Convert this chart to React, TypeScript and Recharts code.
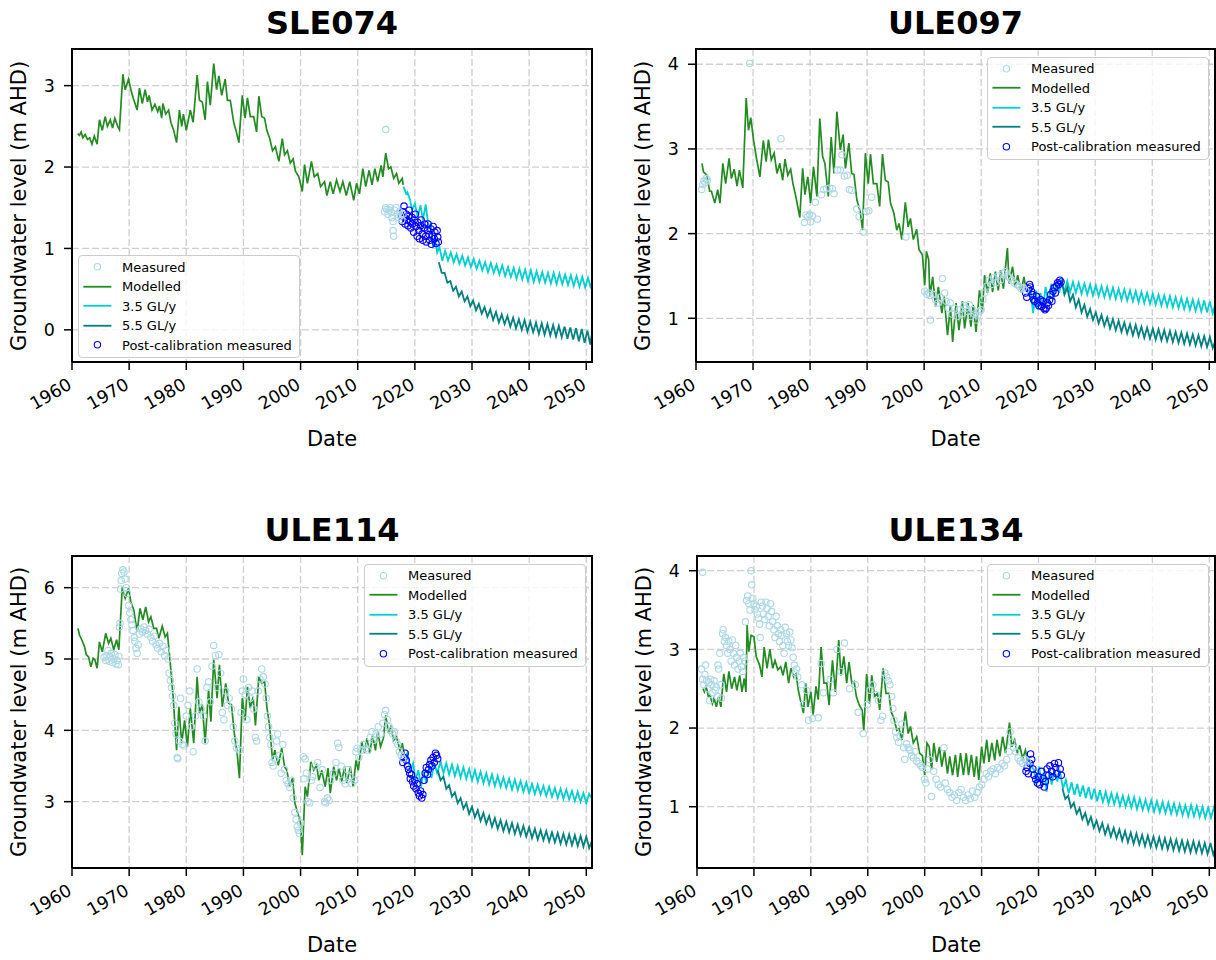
// App.tsx
// Four groundwater hydrographs (measured vs modelled, with two pumping projections) drawn with Recharts

import {
  ComposedChart,
  Line,
  Scatter,
  XAxis,
  YAxis,
  CartesianGrid,
  Legend,
} from 'recharts'

type Pt = [number, number]

const YEAR_TICKS = [1960, 1970, 1980, 1990, 2000, 2010, 2020, 2030, 2040, 2050]
const SERIES_LABELS = ['Measured', 'Modelled', '3.5 GL/y', '5.5 GL/y', 'Post-calibration measured']
const PANEL_TITLES = ['SLE074', 'ULE097', 'ULE114', 'ULE134']
const SLE074_TICKS = [0, 1, 2, 3]
const ULE097_TICKS = [1, 2, 3, 4]
const ULE114_TICKS = [3, 4, 5, 6]
const ULE134_TICKS = [1, 2, 3, 4]

// ---- SLE074 ----
const sle074Measured: Pt[] = [
  [2014.9, 2.46], [2014.7, 1.45], [2014.9, 1.5], [2015.1, 1.48], [2015.3, 1.42], [2015.5, 1.47],
  [2015.7, 1.5], [2015.9, 1.44], [2016.0, 1.38], [2016.2, 1.33], [2016.2, 1.22], [2016.3, 1.15],
  [2016.5, 1.47], [2016.7, 1.5], [2016.9, 1.42], [2017.1, 1.38], [2017.3, 1.45], [2017.5, 1.4],
  [2017.7, 1.35], [2017.9, 1.42],
]
const sle074Modelled: Pt[] = [
  [1961.0, 2.41], [1961.3, 2.39], [1961.6, 2.43], [1961.9, 2.36], [1962.3, 2.4], [1962.7, 2.34],
  [1963.1, 2.36], [1963.5, 2.28], [1963.9, 2.38], [1964.4, 2.28], [1964.8, 2.58], [1965.3, 2.45],
  [1965.8, 2.62], [1966.2, 2.5], [1966.7, 2.58], [1967.1, 2.48], [1967.5, 2.6], [1968.0, 2.5],
  [1968.3, 2.46], [1968.9, 3.14], [1969.3, 2.95], [1969.9, 3.08], [1970.3, 2.95], [1970.7, 2.85],
  [1971.4, 2.7], [1971.8, 2.97], [1972.3, 2.78], [1972.8, 2.95], [1973.2, 2.8], [1973.5, 2.88],
  [1974.0, 2.7], [1974.5, 2.77], [1975.0, 2.68], [1975.3, 2.75], [1975.7, 2.6], [1975.9, 2.78],
  [1976.4, 2.65], [1976.9, 2.7], [1977.3, 2.55], [1977.8, 2.45], [1978.3, 2.3], [1978.8, 2.7],
  [1979.2, 2.5], [1979.5, 2.65], [1980.0, 2.45], [1980.7, 2.7], [1981.2, 2.55], [1981.9, 3.13],
  [1982.3, 2.82], [1982.8, 2.8], [1983.3, 2.58], [1983.7, 3.05], [1984.2, 2.76], [1984.8, 3.27],
  [1985.3, 2.95], [1985.7, 3.12], [1986.2, 2.88], [1986.8, 3.08], [1987.2, 2.82], [1987.7, 2.82],
  [1988.3, 2.55], [1988.7, 2.45], [1989.2, 2.3], [1989.8, 2.88], [1990.3, 2.6], [1990.7, 2.85],
  [1991.2, 2.62], [1991.8, 2.62], [1992.3, 2.43], [1992.7, 2.87], [1993.2, 2.62], [1993.7, 2.6],
  [1994.1, 2.45], [1994.6, 2.35], [1995.1, 2.2], [1995.6, 2.25], [1996.2, 2.07], [1996.8, 2.35],
  [1997.2, 2.15], [1997.7, 2.2], [1998.2, 2.05], [1998.7, 2.1], [1999.1, 1.95], [1999.7, 1.88],
  [2000.3, 1.7], [2000.7, 2.03], [2001.2, 1.8], [2001.9, 2.07], [2002.4, 1.88], [2003.0, 1.92],
  [2003.5, 1.76], [2004.2, 1.82], [2004.6, 1.65], [2005.2, 1.82], [2005.7, 1.67], [2006.3, 1.84],
  [2006.9, 1.7], [2007.4, 1.82], [2008.0, 1.65], [2008.6, 1.82], [2009.3, 1.59], [2009.8, 1.8],
  [2010.3, 1.67], [2010.9, 1.98], [2011.4, 1.76], [2012.0, 1.96], [2012.5, 1.78], [2013.0, 1.98],
  [2013.5, 1.82], [2014.1, 2.02], [2014.4, 1.88], [2014.9, 2.17], [2015.4, 1.98], [2015.8, 2.0],
  [2016.3, 1.86], [2016.8, 1.92], [2017.2, 1.8], [2017.8, 1.86], [2017.95, 1.78],
]
const sle074Low: Pt[] = [
  [2018.0, 1.76], [2018.5, 1.67], [2018.7, 1.69], [2019.2, 1.59], [2019.5, 1.47], [2020.0, 1.55],
  [2020.5, 1.39], [2021.0, 1.53], [2021.4, 1.35], [2021.9, 1.54], [2022.4, 1.26], [2022.8, 1.3],
  [2023.2, 1.02], [2023.5, 1.14], [2023.9, 0.95], [2024.3, 1.02], [2024.8, 0.85], [2025.3, 0.97],
  [2025.8, 0.85], [2026.3, 0.95], [2026.8, 0.83], [2027.3, 0.93], [2027.8, 0.81], [2028.3, 0.91],
  [2028.8, 0.79], [2029.3, 0.89], [2029.8, 0.77], [2030.3, 0.87], [2030.8, 0.75], [2031.3, 0.85],
  [2031.8, 0.73], [2032.3, 0.83], [2032.8, 0.71], [2033.3, 0.82], [2033.8, 0.7], [2034.3, 0.8],
  [2034.8, 0.68], [2035.3, 0.79], [2035.8, 0.66], [2036.3, 0.77], [2036.8, 0.65], [2037.3, 0.76],
  [2037.8, 0.63], [2038.3, 0.75], [2038.8, 0.62], [2039.3, 0.74], [2039.8, 0.6], [2040.3, 0.73],
  [2040.8, 0.59], [2041.3, 0.72], [2041.8, 0.59], [2042.3, 0.71], [2042.8, 0.58], [2043.3, 0.7],
  [2043.8, 0.57], [2044.3, 0.7], [2044.8, 0.56], [2045.3, 0.69], [2045.8, 0.56], [2046.3, 0.68],
  [2046.8, 0.55], [2047.3, 0.67], [2047.8, 0.54], [2048.3, 0.66], [2048.8, 0.53], [2049.3, 0.65],
  [2049.8, 0.52], [2050.3, 0.64], [2050.8, 0.51], [2051.0, 0.6],
]
const sle074High: Pt[] = [
  [2024.2, 0.83], [2024.7, 0.7], [2025.2, 0.7], [2025.7, 0.58], [2026.2, 0.6], [2026.7, 0.48],
  [2027.2, 0.53], [2027.7, 0.41], [2028.2, 0.47], [2028.7, 0.35], [2029.2, 0.41], [2029.7, 0.29],
  [2030.2, 0.36], [2030.7, 0.24], [2031.2, 0.32], [2031.7, 0.2], [2032.2, 0.28], [2032.7, 0.16],
  [2033.2, 0.25], [2033.7, 0.12], [2034.2, 0.22], [2034.7, 0.09], [2035.2, 0.19], [2035.7, 0.07],
  [2036.2, 0.17], [2036.7, 0.04], [2037.2, 0.15], [2037.7, 0.02], [2038.2, 0.13], [2038.7, 0.0],
  [2039.2, 0.12], [2039.7, -0.02], [2040.2, 0.1], [2040.7, -0.03], [2041.2, 0.09], [2041.7, -0.05],
  [2042.2, 0.08], [2042.7, -0.06], [2043.2, 0.07], [2043.7, -0.07], [2044.2, 0.06], [2044.7, -0.08],
  [2045.2, 0.05], [2045.7, -0.09], [2046.2, 0.04], [2046.7, -0.11], [2047.2, 0.03], [2047.7, -0.12],
  [2048.2, 0.02], [2048.7, -0.14], [2049.2, 0.01], [2049.7, -0.16], [2050.2, -0.01], [2050.7, -0.18],
  [2051.0, -0.05],
]
const sle074Post: Pt[] = [
  [2017.6, 1.4], [2017.8, 1.33], [2017.9, 1.45], [2018.1, 1.52], [2018.2, 1.38], [2018.3, 1.3],
  [2018.5, 1.42], [2018.6, 1.35], [2018.8, 1.28], [2018.9, 1.4], [2019.0, 1.47], [2019.2, 1.33],
  [2019.3, 1.25], [2019.5, 1.38], [2019.6, 1.3], [2019.8, 1.2], [2019.9, 1.35], [2020.1, 1.42],
  [2020.2, 1.27], [2020.4, 1.15], [2020.5, 1.32], [2020.7, 1.22], [2020.8, 1.12], [2021.0, 1.28],
  [2021.1, 1.35], [2021.3, 1.18], [2021.4, 1.1], [2021.6, 1.25], [2021.7, 1.3], [2021.9, 1.15],
  [2022.0, 1.08], [2022.2, 1.22], [2022.3, 1.3], [2022.5, 1.17], [2022.6, 1.1], [2022.8, 1.24],
  [2022.9, 1.05], [2023.1, 1.15], [2023.2, 1.27], [2023.4, 1.12], [2023.5, 1.2], [2023.7, 1.06],
  [2023.9, 1.22], [2024.0, 1.14], [2024.1, 1.08],
]

// ---- ULE097 ----
const ule097Measured: Pt[] = [
  [1961.0, 2.52], [1961.2, 2.58], [1961.4, 2.62], [1961.6, 2.6], [1961.8, 2.65], [1962.0, 2.63],
  [1969.4, 4.01], [1974.9, 3.12], [1979.0, 2.13], [1979.3, 2.22], [1979.6, 2.2], [1979.9, 2.23],
  [1980.1, 2.14], [1980.4, 2.21], [1980.9, 2.37], [1981.3, 2.17], [1982.0, 2.46], [1982.4, 2.52],
  [1982.9, 2.53], [1983.4, 2.54], [1983.9, 2.53], [1984.2, 2.47], [1984.8, 2.75], [1985.3, 2.75],
  [1985.6, 2.93], [1986.0, 2.68], [1986.5, 2.69], [1986.9, 2.52], [1987.3, 2.51], [1988.2, 2.29],
  [1988.6, 2.2], [1989.3, 2.02], [1989.9, 2.26], [1990.3, 2.27], [1990.8, 2.43], [1996.8, 1.96],
  [2000.1, 1.32], [2000.5, 1.28], [2000.8, 1.3], [2001.0, 1.27], [2001.1, 0.98], [2001.6, 1.28],
  [2002.0, 1.22], [2002.4, 1.18], [2002.8, 1.25], [2003.2, 1.47], [2003.6, 1.3], [2003.9, 1.2],
  [2004.3, 1.12], [2004.6, 1.18], [2004.9, 1.05], [2005.3, 1.12], [2005.8, 1.02], [2006.2, 1.1],
  [2006.6, 1.05], [2007.0, 1.15], [2007.3, 1.12], [2007.6, 1.08], [2007.9, 1.16], [2008.2, 1.02],
  [2008.5, 1.1], [2008.8, 1.05], [2009.1, 0.98], [2009.4, 1.03], [2009.7, 1.08], [2010.0, 1.1],
  [2010.3, 1.22], [2010.6, 1.3], [2011.0, 1.38], [2011.4, 1.45], [2011.8, 1.4], [2012.2, 1.48],
  [2012.6, 1.42], [2013.0, 1.5], [2013.4, 1.45], [2013.8, 1.53], [2014.2, 1.55], [2014.6, 1.5],
  [2015.0, 1.48], [2015.4, 1.45], [2015.8, 1.42], [2016.2, 1.4], [2016.6, 1.38], [2017.0, 1.35],
  [2017.4, 1.36], [2017.8, 1.33],
]
const ule097Modelled: Pt[] = [
  [1961.05, 2.83], [1961.3, 2.73], [1961.9, 2.69], [1962.1, 2.61], [1962.4, 2.5], [1962.7, 2.5],
  [1963.3, 2.36], [1963.8, 2.52], [1964.2, 2.36], [1964.7, 2.83], [1965.2, 2.59], [1965.8, 2.89],
  [1966.2, 2.65], [1966.7, 2.76], [1967.2, 2.56], [1967.6, 2.75], [1968.2, 2.54], [1968.8, 3.6],
  [1969.2, 3.22], [1969.6, 3.37], [1970.1, 3.1], [1970.6, 2.89], [1971.2, 2.67], [1971.8, 3.1],
  [1972.3, 2.85], [1972.7, 3.11], [1973.2, 2.87], [1973.7, 2.95], [1974.2, 2.71], [1974.7, 2.83],
  [1975.2, 2.63], [1975.6, 2.88], [1976.1, 2.69], [1976.6, 2.76], [1977.0, 2.59], [1977.5, 2.44],
  [1978.2, 2.19], [1978.7, 2.77], [1979.1, 2.46], [1979.6, 2.67], [1980.1, 2.36], [1980.6, 2.79],
  [1981.2, 2.44], [1981.7, 3.36], [1982.2, 2.91], [1982.6, 2.83], [1983.2, 2.44], [1983.7, 3.14],
  [1984.2, 2.71], [1984.7, 3.44], [1985.3, 2.99], [1985.8, 3.17], [1986.2, 2.77], [1986.8, 3.07],
  [1987.3, 2.71], [1987.7, 2.7], [1988.2, 2.4], [1988.8, 2.26], [1989.2, 2.04], [1989.7, 2.95],
  [1990.2, 2.59], [1990.6, 2.94], [1991.1, 2.59], [1991.7, 2.59], [1992.2, 2.32], [1992.7, 2.94],
  [1993.2, 2.63], [1993.7, 2.61], [1994.1, 2.36], [1994.7, 2.24], [1995.2, 2.04], [1995.6, 2.12],
  [1996.1, 1.93], [1996.7, 2.37], [1997.2, 2.08], [1997.6, 2.18], [1998.1, 1.93], [1998.7, 2.05],
  [1999.1, 1.81], [1999.7, 1.75], [2000.1, 1.39], [2000.4, 1.79], [2000.8, 1.69], [2001.0, 1.26],
  [2001.5, 1.49], [2002.0, 1.14], [2002.5, 1.37], [2003.1, 1.06], [2003.5, 1.26], [2004.1, 0.8],
  [2004.6, 1.14], [2005.0, 0.72], [2005.6, 1.18], [2006.1, 0.86], [2006.7, 1.2], [2007.1, 0.88],
  [2007.7, 1.18], [2008.2, 0.9], [2008.6, 1.16], [2009.1, 0.84], [2009.7, 1.33], [2010.2, 1.06],
  [2010.6, 1.51], [2011.1, 1.3], [2011.6, 1.53], [2012.0, 1.31], [2012.5, 1.55], [2013.0, 1.33],
  [2013.4, 1.57], [2013.9, 1.35], [2014.6, 1.83], [2014.9, 1.41], [2015.5, 1.61], [2016.0, 1.37],
  [2016.4, 1.51], [2017.0, 1.31], [2017.5, 1.49], [2017.8, 1.37],
]
const ule097Low: Pt[] = [
  [2017.9, 1.41], [2018.4, 1.26], [2018.7, 1.33], [2019.1, 1.06], [2019.6, 1.33], [2019.9, 1.1],
  [2020.4, 1.3], [2020.9, 1.14], [2021.3, 1.37], [2021.8, 1.18], [2022.3, 1.41], [2022.7, 1.22],
  [2023.2, 1.44], [2023.7, 1.3], [2024.1, 1.45], [2024.6, 1.31], [2025.1, 1.44], [2025.6, 1.31],
  [2026.1, 1.43], [2026.6, 1.3], [2027.1, 1.42], [2027.6, 1.29], [2028.1, 1.41], [2028.6, 1.28],
  [2029.1, 1.4], [2029.6, 1.27], [2030.1, 1.39], [2030.6, 1.26], [2031.1, 1.38], [2031.6, 1.25],
  [2032.1, 1.37], [2032.6, 1.24], [2033.1, 1.36], [2033.6, 1.23], [2034.1, 1.35], [2034.6, 1.22],
  [2035.1, 1.34], [2035.6, 1.21], [2036.1, 1.33], [2036.6, 1.2], [2037.1, 1.32], [2037.6, 1.19],
  [2038.1, 1.31], [2038.6, 1.18], [2039.1, 1.3], [2039.6, 1.17], [2040.1, 1.29], [2040.6, 1.16],
  [2041.1, 1.28], [2041.6, 1.15], [2042.1, 1.27], [2042.6, 1.14], [2043.1, 1.26], [2043.6, 1.13],
  [2044.1, 1.25], [2044.6, 1.12], [2045.1, 1.24], [2045.6, 1.11], [2046.1, 1.23], [2046.6, 1.1],
  [2047.1, 1.22], [2047.6, 1.09], [2048.1, 1.21], [2048.6, 1.08], [2049.1, 1.21], [2049.6, 1.07],
  [2050.1, 1.2], [2050.6, 1.06], [2051.0, 1.15],
]
const ule097High: Pt[] = [
  [2024.1, 1.45], [2024.6, 1.28], [2025.1, 1.36], [2025.6, 1.2], [2026.1, 1.28], [2026.6, 1.13],
  [2027.1, 1.22], [2027.6, 1.07], [2028.1, 1.16], [2028.6, 1.02], [2029.1, 1.11], [2029.6, 0.98],
  [2030.1, 1.07], [2030.6, 0.94], [2031.1, 1.04], [2031.6, 0.91], [2032.1, 1.01], [2032.6, 0.88],
  [2033.1, 0.99], [2033.6, 0.86], [2034.1, 0.97], [2034.6, 0.84], [2035.1, 0.95], [2035.6, 0.82],
  [2036.1, 0.93], [2036.6, 0.8], [2037.1, 0.92], [2037.6, 0.79], [2038.1, 0.9], [2038.6, 0.77],
  [2039.1, 0.89], [2039.6, 0.76], [2040.1, 0.88], [2040.6, 0.75], [2041.1, 0.87], [2041.6, 0.74],
  [2042.1, 0.86], [2042.6, 0.73], [2043.1, 0.85], [2043.6, 0.72], [2044.1, 0.84], [2044.6, 0.71],
  [2045.1, 0.83], [2045.6, 0.7], [2046.1, 0.82], [2046.6, 0.69], [2047.1, 0.81], [2047.6, 0.68],
  [2048.1, 0.8], [2048.6, 0.67], [2049.1, 0.79], [2049.6, 0.66], [2050.1, 0.78], [2050.6, 0.65],
  [2051.0, 0.72],
]
const ule097Post: Pt[] = [
  [2017.8, 1.3], [2018.0, 1.25], [2018.3, 1.35], [2018.5, 1.4], [2018.6, 1.37], [2018.8, 1.32],
  [2019.0, 1.28], [2019.2, 1.22], [2019.4, 1.2], [2019.7, 1.26], [2019.9, 1.18], [2020.1, 1.15],
  [2020.4, 1.22], [2020.6, 1.14], [2020.8, 1.2], [2021.0, 1.12], [2021.2, 1.1], [2021.4, 1.12],
  [2021.6, 1.18], [2021.8, 1.15], [2022.0, 1.22], [2022.2, 1.28], [2022.4, 1.2], [2022.6, 1.32],
  [2022.8, 1.36], [2023.0, 1.3], [2023.2, 1.38], [2023.4, 1.42], [2023.6, 1.4], [2023.8, 1.45],
  [2024.0, 1.43],
]

// ---- ULE114 ----
const ule114Measured: Pt[] = [
  [1965.6, 5.02], [1965.9, 4.98], [1966.1, 5.05], [1966.3, 5.12], [1966.5, 4.97], [1966.7, 5.03],
  [1966.9, 5.08], [1967.1, 4.95], [1967.3, 5.0], [1967.5, 5.06], [1967.7, 4.93], [1967.9, 4.98],
  [1968.1, 4.92], [1968.2, 5.04], [1968.3, 5.45], [1968.4, 5.5], [1968.5, 5.98], [1968.6, 6.1],
  [1968.7, 6.2], [1968.9, 6.25], [1969.1, 6.22], [1969.3, 6.12], [1969.5, 6.0], [1969.7, 5.92],
  [1969.9, 5.75], [1970.1, 5.65], [1970.3, 5.55], [1970.5, 5.48], [1970.7, 5.4], [1970.9, 5.3],
  [1971.0, 5.25], [1971.2, 5.15], [1971.4, 5.08], [1971.6, 5.2], [1971.8, 5.35], [1972.0, 5.42],
  [1972.3, 5.38], [1972.6, 5.45], [1972.9, 5.4], [1973.2, 5.35], [1973.5, 5.42], [1973.8, 5.3],
  [1974.1, 5.25], [1974.4, 5.32], [1974.7, 5.2], [1975.0, 5.15], [1975.3, 5.22], [1975.6, 5.1],
  [1975.9, 5.18], [1976.2, 5.05], [1976.5, 5.12], [1976.8, 5.0], [1977.0, 4.8], [1977.2, 4.7],
  [1977.4, 4.6], [1977.6, 4.48], [1977.8, 4.35], [1978.0, 4.1], [1978.2, 3.95], [1978.4, 3.62],
  [1978.5, 3.6], [1978.8, 3.85], [1979.0, 4.45], [1979.3, 3.8], [1979.6, 3.78], [1980.0, 4.2],
  [1980.3, 4.35], [1980.6, 4.55], [1980.9, 4.05], [1981.2, 3.7], [1981.6, 4.2], [1981.9, 4.86],
  [1982.2, 4.4], [1982.6, 4.3], [1983.0, 4.2], [1983.3, 3.85], [1983.6, 4.6], [1983.9, 4.68],
  [1984.2, 4.4], [1984.5, 4.9], [1984.8, 5.19], [1985.1, 5.05], [1985.4, 4.6], [1985.7, 5.06],
  [1986.0, 4.8], [1986.3, 4.25], [1986.6, 4.15], [1986.9, 4.55], [1987.2, 4.35], [1987.5, 4.45],
  [1987.9, 4.3], [1988.2, 4.05], [1988.5, 3.85], [1988.8, 3.75], [1989.3, 3.72], [1989.6, 4.25],
  [1989.8, 4.55], [1990.0, 4.72], [1990.3, 4.5], [1990.6, 4.15], [1990.9, 4.6], [1991.2, 4.45],
  [1991.5, 4.55], [1991.8, 4.3], [1992.1, 3.9], [1992.3, 3.85], [1992.6, 4.55], [1992.9, 4.72],
  [1993.2, 4.86], [1993.5, 4.75], [1993.8, 4.65], [1994.0, 4.45], [1994.2, 4.2], [1994.4, 4.05],
  [1994.6, 3.9], [1994.8, 3.8], [1995.0, 3.55], [1995.2, 3.5], [1995.5, 3.6], [1995.8, 3.85],
  [1996.0, 3.95], [1996.3, 3.65], [1996.6, 3.4], [1996.9, 3.8], [1997.2, 3.45], [1997.5, 3.3],
  [1997.8, 3.25], [1998.1, 3.2], [1998.4, 3.3], [1998.7, 3.05], [1999.0, 2.85], [1999.2, 2.75],
  [1999.4, 2.65], [1999.6, 2.6], [1999.8, 2.55], [2000.0, 2.7], [2000.5, 3.63], [2000.6, 3.32],
  [2000.8, 3.6], [2001.0, 3.4], [2001.3, 3.0], [2001.6, 2.98], [2001.9, 3.3], [2002.1, 3.35],
  [2002.5, 3.5], [2003.0, 3.55], [2003.4, 3.2], [2003.8, 3.45], [2004.2, 3.0], [2004.4, 2.98],
  [2004.7, 3.05], [2005.0, 3.02], [2005.3, 3.3], [2005.8, 3.4], [2006.2, 3.55], [2006.5, 3.82],
  [2006.7, 3.76], [2007.1, 3.5], [2007.4, 3.3], [2007.8, 3.25], [2008.2, 3.45], [2008.6, 3.35],
  [2009.0, 3.25], [2009.4, 3.3], [2009.7, 3.7], [2009.9, 3.75], [2010.2, 3.62], [2010.6, 3.72],
  [2011.0, 3.8], [2011.4, 3.75], [2011.8, 3.72], [2012.2, 3.9], [2012.5, 3.98], [2012.8, 3.86],
  [2013.2, 3.95], [2013.6, 4.05], [2014.0, 3.95], [2014.4, 4.1], [2014.7, 4.22], [2014.9, 4.28],
  [2015.2, 4.15], [2015.5, 4.05], [2015.8, 4.0], [2016.1, 3.95], [2016.4, 3.98], [2016.7, 3.85],
  [2017.0, 3.8], [2017.3, 3.7], [2017.6, 3.65], [2017.9, 3.6],
]
const ule114Modelled: Pt[] = [
  [1961.05, 5.43], [1961.3, 5.34], [1961.7, 5.27], [1962.2, 5.17], [1962.5, 5.06], [1962.9, 5.03],
  [1963.3, 4.89], [1963.7, 5.01], [1964.0, 4.99], [1964.4, 4.87], [1964.8, 5.24], [1965.3, 5.1],
  [1965.9, 5.36], [1966.4, 5.22], [1966.8, 5.29], [1967.3, 5.13], [1967.8, 5.27], [1968.2, 5.13],
  [1968.8, 6.01], [1969.3, 5.85], [1969.9, 5.99], [1970.3, 5.8], [1970.8, 5.69], [1971.4, 5.38],
  [1971.9, 5.71], [1972.4, 5.55], [1972.9, 5.73], [1973.4, 5.52], [1973.8, 5.59], [1974.3, 5.43],
  [1974.8, 5.43], [1975.2, 5.29], [1975.8, 5.46], [1976.3, 5.31], [1976.7, 5.36], [1977.2, 4.94],
  [1977.7, 4.47], [1978.3, 3.72], [1978.7, 4.33], [1979.2, 3.82], [1979.7, 4.14], [1980.2, 3.77],
  [1980.7, 4.31], [1981.3, 3.82], [1981.9, 4.75], [1982.3, 4.24], [1982.8, 4.36], [1983.3, 3.82],
  [1983.9, 4.57], [1984.3, 4.12], [1984.8, 4.99], [1985.4, 4.45], [1985.8, 4.92], [1986.3, 4.33],
  [1986.9, 4.66], [1987.4, 4.38], [1987.9, 4.36], [1988.4, 3.96], [1988.9, 3.68], [1989.3, 3.33],
  [1989.8, 4.45], [1990.3, 4.14], [1990.7, 4.61], [1991.2, 4.31], [1991.7, 4.47], [1992.1, 4.07],
  [1992.7, 4.75], [1993.2, 4.66], [1993.7, 4.68], [1994.1, 4.33], [1994.6, 4.05], [1995.1, 3.58],
  [1995.5, 3.72], [1996.1, 3.51], [1996.7, 3.75], [1997.2, 3.49], [1997.6, 3.44], [1998.1, 3.21],
  [1998.6, 3.33], [1999.0, 2.98], [1999.5, 2.84], [2000.0, 2.7], [2000.3, 2.25], [2000.8, 3.21],
  [2001.2, 3.07], [2001.8, 3.56], [2002.3, 3.44], [2002.8, 3.51], [2003.2, 3.3], [2003.7, 3.44],
  [2004.3, 3.21], [2004.8, 3.47], [2005.2, 3.12], [2005.8, 3.49], [2006.3, 3.3], [2006.7, 3.47],
  [2007.2, 3.28], [2007.7, 3.49], [2008.1, 3.26], [2008.7, 3.49], [2009.2, 3.21], [2009.7, 3.58],
  [2010.1, 3.44], [2010.7, 3.84], [2011.2, 3.68], [2011.6, 3.89], [2012.1, 3.68], [2012.6, 3.93],
  [2013.1, 3.72], [2013.5, 3.98], [2014.0, 3.77], [2014.5, 3.89], [2014.9, 4.21], [2015.4, 3.96],
  [2015.8, 4.05], [2016.3, 3.86], [2016.8, 3.91], [2017.4, 3.72], [2017.8, 3.82], [2018.2, 3.65],
]
const ule114Low: Pt[] = [
  [2018.3, 3.63], [2018.7, 3.68], [2019.2, 3.44], [2019.7, 3.54], [2020.1, 3.3], [2020.6, 3.44],
  [2021.1, 3.21], [2021.5, 3.44], [2022.0, 3.26], [2022.5, 3.49], [2022.9, 3.33], [2023.4, 3.54],
  [2023.9, 3.4], [2024.5, 3.56], [2025.0, 3.4], [2025.5, 3.54], [2026.0, 3.38], [2026.5, 3.52],
  [2027.0, 3.36], [2027.5, 3.5], [2028.0, 3.34], [2028.5, 3.48], [2029.0, 3.32], [2029.5, 3.46],
  [2030.0, 3.3], [2030.5, 3.44], [2031.0, 3.28], [2031.5, 3.42], [2032.0, 3.26], [2032.5, 3.4],
  [2033.0, 3.24], [2033.5, 3.38], [2034.0, 3.22], [2034.5, 3.36], [2035.0, 3.21], [2035.5, 3.34],
  [2036.0, 3.19], [2036.5, 3.32], [2037.0, 3.17], [2037.5, 3.31], [2038.0, 3.16], [2038.5, 3.29],
  [2039.0, 3.14], [2039.5, 3.27], [2040.0, 3.12], [2040.5, 3.25], [2041.0, 3.11], [2041.5, 3.24],
  [2042.0, 3.1], [2042.5, 3.22], [2043.0, 3.08], [2043.5, 3.21], [2044.0, 3.07], [2044.5, 3.19],
  [2045.0, 3.05], [2045.5, 3.18], [2046.0, 3.04], [2046.5, 3.17], [2047.0, 3.03], [2047.5, 3.15],
  [2048.0, 3.01], [2048.5, 3.14], [2049.0, 3.0], [2049.5, 3.12], [2050.0, 2.98], [2050.5, 3.11],
  [2051.0, 3.04],
]
const ule114High: Pt[] = [
  [2024.0, 3.44], [2024.5, 3.3], [2025.0, 3.35], [2025.5, 3.18], [2026.0, 3.23], [2026.5, 3.07],
  [2027.0, 3.13], [2027.5, 2.98], [2028.0, 3.05], [2028.5, 2.9], [2029.0, 2.98], [2029.5, 2.83],
  [2030.0, 2.93], [2030.5, 2.78], [2031.0, 2.88], [2031.5, 2.73], [2032.0, 2.84], [2032.5, 2.69],
  [2033.0, 2.8], [2033.5, 2.65], [2034.0, 2.77], [2034.5, 2.62], [2035.0, 2.74], [2035.5, 2.59],
  [2036.0, 2.72], [2036.5, 2.57], [2037.0, 2.7], [2037.5, 2.55], [2038.0, 2.68], [2038.5, 2.53],
  [2039.0, 2.66], [2039.5, 2.51], [2040.0, 2.64], [2040.5, 2.49], [2041.0, 2.62], [2041.5, 2.47],
  [2042.0, 2.6], [2042.5, 2.46], [2043.0, 2.59], [2043.5, 2.44], [2044.0, 2.57], [2044.5, 2.43],
  [2045.0, 2.56], [2045.5, 2.41], [2046.0, 2.55], [2046.5, 2.4], [2047.0, 2.54], [2047.5, 2.39],
  [2048.0, 2.53], [2048.5, 2.38], [2049.0, 2.52], [2049.5, 2.37], [2050.0, 2.51], [2050.5, 2.35],
  [2051.0, 2.45],
]
const ule114Post: Pt[] = [
  [2017.9, 3.55], [2018.1, 3.62], [2018.3, 3.68], [2018.5, 3.58], [2018.7, 3.5], [2018.9, 3.45],
  [2019.1, 3.4], [2019.2, 3.32], [2019.4, 3.38], [2019.6, 3.28], [2019.8, 3.22], [2020.0, 3.3],
  [2020.2, 3.18], [2020.4, 3.25], [2020.6, 3.12], [2020.8, 3.08], [2021.0, 3.15], [2021.2, 3.05],
  [2021.4, 3.1], [2021.6, 3.3], [2021.8, 3.4], [2022.0, 3.48], [2022.2, 3.38], [2022.4, 3.45],
  [2022.6, 3.52], [2022.8, 3.58], [2023.0, 3.5], [2023.2, 3.62], [2023.4, 3.55], [2023.6, 3.68],
  [2023.8, 3.65], [2024.0, 3.6],
]

// ---- ULE134 ----
const ule134Measured: Pt[] = [
  [1961.0, 3.98], [1960.8, 2.75], [1961.0, 2.62], [1961.2, 2.55], [1961.4, 2.68], [1961.5, 2.8],
  [1961.7, 2.6], [1961.9, 2.5], [1962.1, 2.58], [1962.2, 2.35], [1962.4, 2.62], [1962.6, 2.55],
  [1962.8, 2.45], [1963.0, 2.6], [1963.2, 2.48], [1963.4, 2.52], [1963.6, 2.4], [1963.7, 2.8],
  [1963.8, 2.75], [1964.0, 2.95], [1964.2, 2.55], [1964.3, 2.38], [1964.5, 3.2], [1964.6, 3.25],
  [1964.8, 3.1], [1965.0, 3.15], [1965.2, 3.05], [1965.4, 2.95], [1965.6, 3.1], [1965.8, 3.0],
  [1966.0, 2.85], [1966.2, 3.12], [1966.4, 2.95], [1966.6, 2.8], [1966.8, 3.05], [1967.0, 2.9],
  [1967.2, 2.75], [1967.4, 2.85], [1967.6, 2.95], [1967.8, 2.78], [1968.0, 2.72], [1968.2, 2.9],
  [1968.4, 2.85], [1968.5, 3.35], [1968.7, 3.62], [1968.9, 3.68], [1969.1, 3.58], [1969.3, 3.5],
  [1969.5, 4.0], [1969.6, 3.82], [1969.8, 3.65], [1970.0, 3.58], [1970.2, 3.5], [1970.4, 3.55],
  [1970.6, 3.45], [1970.8, 3.4], [1971.0, 3.32], [1971.1, 3.15], [1971.3, 3.6], [1971.5, 3.55],
  [1971.7, 3.45], [1971.9, 3.38], [1972.1, 3.6], [1972.3, 3.52], [1972.5, 3.42], [1972.7, 3.3],
  [1972.9, 3.58], [1973.1, 3.48], [1973.3, 3.35], [1973.5, 3.25], [1973.7, 3.15], [1973.9, 3.42],
  [1974.1, 3.3], [1974.3, 3.2], [1974.5, 3.1], [1974.7, 3.25], [1974.9, 3.18], [1975.1, 3.05],
  [1975.3, 2.95], [1975.5, 3.28], [1975.7, 3.2], [1975.9, 3.1], [1976.1, 3.05], [1976.3, 3.22],
  [1976.5, 3.12], [1976.7, 3.02], [1976.9, 2.9], [1977.1, 2.8], [1977.3, 2.7], [1977.5, 2.75],
  [1977.7, 2.65], [1978.4, 2.55], [1978.7, 2.3], [1979.2, 2.48], [1979.6, 2.1], [1980.3, 2.12],
  [1981.3, 2.13], [1981.8, 2.82], [1982.2, 2.45], [1983.4, 2.62], [1984.0, 2.45], [1984.6, 3.0],
  [1985.3, 2.72], [1985.9, 3.08], [1986.8, 2.5], [1987.8, 2.55], [1988.3, 2.2], [1989.2, 1.93],
  [1989.9, 2.3], [1990.4, 2.48], [1990.9, 2.55], [1991.5, 2.42], [1991.9, 2.35], [1992.3, 2.1],
  [1992.6, 2.15], [1993.0, 2.7], [1993.3, 2.65], [1993.6, 2.6], [1993.9, 2.55], [1994.2, 2.4],
  [1994.4, 2.25], [1994.6, 2.1], [1994.9, 1.95], [1995.1, 1.88], [1995.4, 1.82], [1995.7, 1.9],
  [1996.0, 2.05], [1996.3, 1.75], [1996.5, 1.6], [1996.8, 1.8], [1997.1, 1.75], [1997.4, 1.72],
  [1997.7, 1.65], [1998.0, 1.62], [1998.3, 1.7], [1998.6, 1.58], [1999.0, 1.55], [1999.3, 1.52],
  [1999.6, 1.5], [2000.0, 1.35], [2000.2, 1.3], [2000.5, 1.48], [2000.9, 1.6], [2001.2, 1.13],
  [2001.6, 1.45], [2002.0, 1.35], [2002.4, 1.28], [2002.8, 1.25], [2003.4, 1.75], [2003.6, 1.3],
  [2004.0, 1.22], [2004.4, 1.18], [2004.8, 1.12], [2005.2, 1.15], [2005.6, 1.08], [2006.0, 1.18],
  [2006.4, 1.22], [2006.8, 1.12], [2007.2, 1.08], [2007.6, 1.15], [2008.0, 1.1], [2008.4, 1.2],
  [2008.8, 1.12], [2009.2, 1.18], [2009.6, 1.25], [2010.0, 1.28], [2010.4, 1.35], [2010.8, 1.42],
  [2011.2, 1.38], [2011.6, 1.45], [2012.0, 1.48], [2012.4, 1.42], [2012.8, 1.5], [2013.2, 1.48],
  [2013.6, 1.55], [2014.0, 1.52], [2014.4, 1.6], [2014.8, 1.7], [2015.0, 1.95], [2015.3, 1.82],
  [2015.6, 1.75], [2016.0, 1.7], [2016.4, 1.62], [2016.8, 1.58], [2017.2, 1.55], [2017.6, 1.6],
  [2018.0, 1.58],
]
const ule134Modelled: Pt[] = [
  [1961.05, 2.5], [1961.3, 2.46], [1961.6, 2.53], [1962.0, 2.4], [1962.3, 2.42], [1962.7, 2.31],
  [1963.0, 2.38], [1963.4, 2.27], [1963.8, 2.4], [1964.2, 2.27], [1964.7, 2.69], [1965.2, 2.46],
  [1965.6, 2.72], [1966.1, 2.5], [1966.6, 2.65], [1967.0, 2.48], [1967.5, 2.67], [1967.9, 2.46],
  [1968.3, 2.63], [1968.6, 2.46], [1968.8, 3.31], [1969.1, 2.97], [1969.5, 3.18], [1970.0, 3.16],
  [1970.4, 2.91], [1971.0, 2.8], [1971.4, 2.65], [1971.8, 3.03], [1972.3, 2.76], [1972.8, 3.0],
  [1973.3, 2.76], [1973.7, 2.86], [1974.2, 2.74], [1974.7, 2.78], [1975.1, 2.67], [1975.6, 2.84],
  [1976.1, 2.57], [1976.5, 2.76], [1977.0, 2.65], [1977.4, 2.69], [1977.8, 2.48], [1978.3, 2.31],
  [1978.7, 2.19], [1979.1, 2.57], [1979.5, 2.27], [1980.0, 2.46], [1980.4, 2.17], [1980.9, 2.53],
  [1981.3, 2.36], [1981.8, 3.03], [1982.3, 2.57], [1982.8, 2.57], [1983.2, 2.29], [1983.8, 2.86],
  [1984.3, 2.46], [1984.9, 3.12], [1985.3, 2.67], [1985.8, 2.91], [1986.3, 2.57], [1986.7, 2.84],
  [1987.2, 2.57], [1987.6, 2.59], [1988.0, 2.4], [1988.5, 2.29], [1989.0, 2.23], [1989.3, 1.97],
  [1989.8, 2.69], [1990.3, 2.31], [1990.7, 2.67], [1991.2, 2.4], [1991.7, 2.44], [1992.1, 2.23],
  [1992.7, 2.76], [1993.2, 2.44], [1993.7, 2.44], [1994.1, 2.21], [1994.6, 2.12], [1995.1, 1.97],
  [1995.5, 1.99], [1996.0, 1.85], [1996.6, 2.21], [1997.1, 1.93], [1997.5, 2.02], [1998.0, 1.81],
  [1998.6, 1.89], [1999.1, 1.68], [1999.6, 1.65], [2000.0, 1.4], [2000.4, 1.81], [2000.8, 1.76],
  [2001.2, 1.47], [2001.6, 1.81], [2002.1, 1.57], [2002.6, 1.76], [2003.0, 1.51], [2003.5, 1.72],
  [2004.0, 1.42], [2004.4, 1.64], [2004.9, 1.4], [2005.4, 1.66], [2005.8, 1.38], [2006.3, 1.68],
  [2006.8, 1.4], [2007.3, 1.68], [2007.7, 1.4], [2008.2, 1.66], [2008.7, 1.38], [2009.1, 1.64],
  [2009.5, 1.34], [2010.0, 1.76], [2010.4, 1.55], [2010.9, 1.85], [2011.3, 1.57], [2011.8, 1.81],
  [2012.3, 1.59], [2012.7, 1.85], [2013.2, 1.64], [2013.7, 1.89], [2014.2, 1.68], [2014.9, 2.07],
  [2015.3, 1.76], [2015.8, 1.85], [2016.3, 1.68], [2016.7, 1.78], [2017.2, 1.61], [2017.7, 1.72],
  [2018.1, 1.57],
]
const ule134Low: Pt[] = [
  [2018.2, 1.64], [2018.7, 1.51], [2019.2, 1.47], [2019.6, 1.28], [2020.1, 1.51], [2020.6, 1.25],
  [2021.1, 1.47], [2021.4, 1.19], [2021.9, 1.44], [2022.3, 1.28], [2022.8, 1.47], [2023.3, 1.32],
  [2023.7, 1.47], [2024.3, 1.23], [2024.8, 1.34], [2025.3, 1.17], [2025.8, 1.31], [2026.3, 1.15],
  [2026.8, 1.29], [2027.3, 1.13], [2027.8, 1.27], [2028.3, 1.11], [2028.8, 1.25], [2029.3, 1.09],
  [2029.8, 1.23], [2030.3, 1.07], [2030.8, 1.21], [2031.3, 1.06], [2031.8, 1.19], [2032.3, 1.04],
  [2032.8, 1.17], [2033.3, 1.03], [2033.8, 1.16], [2034.3, 1.01], [2034.8, 1.14], [2035.3, 1.0],
  [2035.8, 1.13], [2036.3, 0.99], [2036.8, 1.12], [2037.3, 0.97], [2037.8, 1.1], [2038.3, 0.96],
  [2038.8, 1.09], [2039.3, 0.95], [2039.8, 1.08], [2040.3, 0.94], [2040.8, 1.07], [2041.3, 0.93],
  [2041.8, 1.06], [2042.3, 0.92], [2042.8, 1.05], [2043.3, 0.91], [2043.8, 1.04], [2044.3, 0.9],
  [2044.8, 1.03], [2045.3, 0.89], [2045.8, 1.02], [2046.3, 0.88], [2046.8, 1.02], [2047.3, 0.88],
  [2047.8, 1.01], [2048.3, 0.87], [2048.8, 1.0], [2049.3, 0.86], [2049.8, 0.99], [2050.3, 0.86],
  [2050.8, 0.99], [2051.0, 0.94],
]
const ule134High: Pt[] = [
  [2024.2, 1.23], [2024.7, 1.1], [2025.2, 1.14], [2025.7, 0.99], [2026.2, 1.05], [2026.7, 0.91],
  [2027.2, 0.98], [2027.7, 0.84], [2028.2, 0.92], [2028.7, 0.78], [2029.2, 0.87], [2029.7, 0.73],
  [2030.2, 0.82], [2030.7, 0.69], [2031.2, 0.79], [2031.7, 0.65], [2032.2, 0.76], [2032.7, 0.62],
  [2033.2, 0.73], [2033.7, 0.6], [2034.2, 0.71], [2034.7, 0.57], [2035.2, 0.69], [2035.7, 0.55],
  [2036.2, 0.67], [2036.7, 0.53], [2037.2, 0.66], [2037.7, 0.52], [2038.2, 0.64], [2038.7, 0.5],
  [2039.2, 0.63], [2039.7, 0.49], [2040.2, 0.62], [2040.7, 0.48], [2041.2, 0.61], [2041.7, 0.47],
  [2042.2, 0.6], [2042.7, 0.46], [2043.2, 0.59], [2043.7, 0.45], [2044.2, 0.58], [2044.7, 0.44],
  [2045.2, 0.57], [2045.7, 0.43], [2046.2, 0.56], [2046.7, 0.42], [2047.2, 0.56], [2047.7, 0.42],
  [2048.2, 0.55], [2048.7, 0.41], [2049.2, 0.54], [2049.7, 0.4], [2050.2, 0.54], [2050.7, 0.39],
  [2051.0, 0.46],
]
const ule134Post: Pt[] = [
  [2017.8, 1.45], [2018.0, 1.5], [2018.2, 1.42], [2018.5, 1.55], [2018.6, 1.67], [2018.8, 1.6],
  [2019.0, 1.48], [2019.2, 1.4], [2019.5, 1.35], [2019.8, 1.3], [2020.0, 1.38], [2020.2, 1.28],
  [2020.5, 1.45], [2020.8, 1.36], [2021.0, 1.25], [2021.2, 1.32], [2021.5, 1.48], [2021.8, 1.4],
  [2022.0, 1.52], [2022.3, 1.45], [2022.5, 1.38], [2022.8, 1.55], [2023.0, 1.5], [2023.2, 1.42],
  [2023.5, 1.56], [2023.8, 1.48], [2024.0, 1.4],
]

// ---- styling ----
const FONT = 'DejaVu Sans'
const C_MEASURED = '#add8e6'
const C_MODEL = '#228b22'
const C_LOW = '#00ced1'
const C_HIGH = '#008080'
const C_POST = '#0000ff'
const LEGEND_W = 222
const LEGEND_H = 103
const SPINE = 2
const X_DOMAIN: [number, number] = [1960, 2051]
// plot area offset inside each chart svg
const PAD_L = 72
const PAD_T = 50

const rows = (pts: Pt[]) => pts.map(([x, y]) => ({ x, y }))

interface PanelCfg {
  title: string
  plot: { x: number; y: number; w: number; h: number }
  yDomain: [number, number]
  yTicks: number[]
  legendLowerLeft: boolean
  measured: Pt[]
  modelled: Pt[]
  low: Pt[]
  high: Pt[]
  post: Pt[]
}

// plot boxes placed on whole pixels so the frame lines land crisply
const PANELS: PanelCfg[] = [
  {
    title: PANEL_TITLES[0], plot: { x: 72, y: 49, w: 520, h: 313 }, yDomain: [-0.395, 3.45],
    yTicks: SLE074_TICKS, legendLowerLeft: true,
    measured: sle074Measured, modelled: sle074Modelled, low: sle074Low, high: sle074High, post: sle074Post,
  },
  {
    title: PANEL_TITLES[1], plot: { x: 696, y: 49, w: 519, h: 313 }, yDomain: [0.484, 4.18],
    yTicks: ULE097_TICKS, legendLowerLeft: false,
    measured: ule097Measured, modelled: ule097Modelled, low: ule097Low, high: ule097High, post: ule097Post,
  },
  {
    title: PANEL_TITLES[2], plot: { x: 72, y: 556, w: 520, h: 312 }, yDomain: [2.07, 6.444],
    yTicks: ULE114_TICKS, legendLowerLeft: false,
    measured: ule114Measured, modelled: ule114Modelled, low: ule114Low, high: ule114High, post: ule114Post,
  },
  {
    title: PANEL_TITLES[3], plot: { x: 697, y: 556, w: 518, h: 312 }, yDomain: [0.221, 4.187],
    yTicks: ULE134_TICKS, legendLowerLeft: false,
    measured: ule134Measured, modelled: ule134Modelled, low: ule134Low, high: ule134High, post: ule134Post,
  },
]

function YearTick(props: any) {
  const { x, y, payload } = props
  const ax = x + 1
  const ay = y + 16
  return (
    <text x={ax} y={ay} textAnchor="end" transform={`rotate(-30 ${ax} ${ay})`}
      fontSize={17.5} fontFamily={FONT} fill="#000">
      {payload.value}
    </text>
  )
}

const ring = (color: string) => (p: any) =>
  <circle key={`${p.cx}-${p.cy}-${p.index}`} cx={p.cx} cy={p.cy} r={3.2} fill="none" stroke={color} strokeWidth={1.1} />

function LegendBox() {
  const marks = [
    { kind: 'ring', color: C_MEASURED },
    { kind: 'line', color: C_MODEL },
    { kind: 'line', color: C_LOW },
    { kind: 'line', color: C_HIGH },
    { kind: 'ring', color: C_POST },
  ]
  return (
    <div style={{
      width: LEGEND_W, height: LEGEND_H, boxSizing: 'border-box', paddingTop: 1.25,
      border: '1px solid #cccccc', borderRadius: 4, background: 'rgba(255,255,255,0.8)',
      fontFamily: FONT, fontSize: 13, color: '#000',
    }}>
      {SERIES_LABELS.map((label, i) => (
        <div key={label} style={{ display: 'flex', alignItems: 'center', height: 19.5, whiteSpace: 'nowrap' }}>
          <svg width={43} height={19.5} style={{ flex: 'none' }}>
            {marks[i].kind === 'line'
              ? <line x1={4.4} x2={32.4} y1={9.75} y2={9.75} stroke={marks[i].color} strokeWidth={1.8} />
              : <circle cx={18.4} cy={9.75} r={3.2} fill="none" stroke={marks[i].color} strokeWidth={1.1} />}
          </svg>
          <span>{label}</span>
        </div>
      ))}
    </div>
  )
}

function Panel({ p }: { p: PanelCfg }) {
  const { x, y, w, h } = p.plot
  const legendPos = p.legendLowerLeft
    ? { left: 78, top: PAD_T + h - 4 - LEGEND_H }
    : { left: PAD_L + w - 6 - LEGEND_W, top: 57.5 }
  const axisLine = { stroke: '#000', strokeWidth: SPINE }
  const tickLine = { stroke: '#000', strokeWidth: 1.5 }
  return (
    <>
      <div style={{ position: 'absolute', left: x - PAD_L, top: y - PAD_T }}>
        <ComposedChart width={w + 82} height={h + 120} margin={{ top: PAD_T, right: 10, bottom: 10, left: 12 }}>
          <CartesianGrid stroke="#cfcfcf" strokeDasharray="7 3" strokeWidth={1.3} syncWithTicks />
          <XAxis dataKey="x" type="number" domain={X_DOMAIN} ticks={YEAR_TICKS} interval={0}
            allowDataOverflow height={60} tickSize={8} tick={<YearTick />}
            axisLine={axisLine} tickLine={tickLine} />
          <YAxis dataKey="y" type="number" domain={p.yDomain} ticks={p.yTicks} interval={0}
            allowDataOverflow width={60} tickSize={8} tickMargin={9}
            tick={{ fontSize: 17.5, fontFamily: FONT, fill: '#000' }}
            axisLine={axisLine} tickLine={tickLine} />
          {/* measured points as an unstroked line with ring dots, so the modelled line draws over them */}
          <Line data={rows(p.measured)} dataKey="y" type="linear" stroke="none"
            dot={ring(C_MEASURED)} activeDot={false} isAnimationActive={false} />
          <Line data={rows(p.modelled)} dataKey="y" type="linear" stroke={C_MODEL} strokeWidth={1.7}
            dot={false} activeDot={false} isAnimationActive={false} />
          <Line data={rows(p.low)} dataKey="y" type="linear" stroke={C_LOW} strokeWidth={1.8}
            dot={false} activeDot={false} isAnimationActive={false} />
          <Line data={rows(p.high)} dataKey="y" type="linear" stroke={C_HIGH} strokeWidth={1.8}
            dot={false} activeDot={false} isAnimationActive={false} />
          <Scatter data={rows(p.post)} dataKey="y" shape={ring(C_POST)} isAnimationActive={false} />
          <Legend layout="vertical" align="center" verticalAlign="middle"
            wrapperStyle={{ ...legendPos, width: LEGEND_W, height: LEGEND_H }}
            content={() => <LegendBox />} />
        </ComposedChart>
      </div>
      {/* top and right spines (left/bottom come from the axes) */}
      <div style={{ position: 'absolute', left: x - 1, top: y - 1, width: w + 2, height: SPINE, background: '#000' }} />
      <div style={{ position: 'absolute', left: x + w - 1, top: y - 1, width: SPINE, height: h + 2, background: '#000' }} />
      <div style={{
        position: 'absolute', left: x, top: y - 15 - 27.1, width: w, textAlign: 'center',
        fontFamily: FONT, fontWeight: 'bold', fontSize: 32, lineHeight: '32px', whiteSpace: 'nowrap',
      }}>{p.title}</div>
      <div style={{
        position: 'absolute', left: x, top: y + h + 85 - 17.8, width: w, textAlign: 'center',
        fontFamily: FONT, fontSize: 21, lineHeight: '21px',
      }}>Date</div>
      <div style={{
        position: 'absolute', left: x - 52.8, top: y + h / 2, transform: 'translate(-50%, -50%) rotate(-90deg)',
        fontFamily: FONT, fontSize: 21, lineHeight: '21px', whiteSpace: 'nowrap',
      }}>Groundwater level (m AHD)</div>
    </>
  )
}

export default function App() {
  return (
    <div style={{ position: 'absolute', left: 0, top: 0, width: 1216, height: 960, background: '#fff', overflow: 'hidden' }}>
      {PANELS.map((p) => <Panel key={p.title} p={p} />)}
    </div>
  )
}
